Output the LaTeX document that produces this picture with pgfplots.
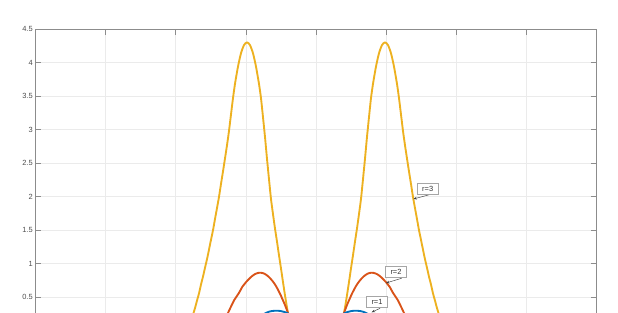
\documentclass[border=0pt]{standalone}
\usepackage{fontspec}
\setmainfont{Liberation Sans}
\usepackage{pgfplots}
\pgfplotsset{compat=1.18}
\usetikzlibrary{arrows.meta}
\definecolor{mblue}{rgb}{0,0.447,0.741}
\definecolor{mred}{rgb}{0.85,0.325,0.098}
\definecolor{myel}{rgb}{0.929,0.694,0.125}
\definecolor{axgray}{rgb}{0.55,0.55,0.55}
\begin{document}
\begin{tikzpicture}
\useasboundingbox (-26.625pt,13.35pt) rectangle (436.875pt,248.1pt);
\clip (-26.625pt,13.35pt) rectangle (436.875pt,248.1pt);
\begin{axis}[
  at={(0,0)}, anchor=south west,
  scale only axis, width=420.75pt, height=226.125pt,
  xmin=-4, xmax=4, ymin=0, ymax=4.5,
  xtick={-4,-3,...,4}, ytick={0.5,1,...,4.5},
  yticklabels={0.5,1,1.5,2,2.5,3,3.5,4,4.5},
  xticklabels={},
  grid=major,
  major grid style={draw=black!8, line width=0.5pt},
  axis line style={draw=axgray, line width=0.5pt},
  major tick style={draw=axgray, line width=0.5pt},
  major tick length=4.2pt,
  tick align=inside,
  /pgf/number format/assume math mode=true,
  tick label style={font=\fontsize{5.6}{6.5}\selectfont, text=black!70},
  yticklabel style={inner sep=0pt, xshift=-1.9pt},
  every axis plot/.append style={line width=1.4pt, line join=round},
]
% r=3, right peak
\addplot[myel, smooth, tension=0.4] coordinates {
(0.342,-0.05) (0.371,0.09) (0.399,0.26) (0.414,0.35) (0.442,0.53) (0.471,0.73) (0.499,0.93) (0.528,1.13) (0.556,1.33) (0.585,1.53) (0.613,1.74) (0.642,1.97) (0.670,2.26) (0.699,2.57) (0.727,2.89) (0.756,3.19) (0.784,3.47) (0.813,3.686) (0.856,3.946) (0.898,4.141) (0.941,4.264) (0.984,4.306)
(1.027,4.264) (1.070,4.141) (1.112,3.946) (1.155,3.686) (1.184,3.47) (1.212,3.23) (1.241,2.98) (1.269,2.77) (1.298,2.57) (1.326,2.38) (1.355,2.19) (1.383,2.00) (1.412,1.83) (1.440,1.67) (1.469,1.50) (1.497,1.36) (1.526,1.21) (1.554,1.07) (1.583,0.94) (1.611,0.81) (1.640,0.69) (1.668,0.56) (1.697,0.45) (1.725,0.34) (1.754,0.24) (1.782,0.14) (1.811,0.05) (1.84,-0.03)
};
% r=3, left peak
\addplot[myel, smooth, tension=0.4] coordinates {
(-1.84,-0.03) (-1.811,0.05) (-1.782,0.14) (-1.754,0.24) (-1.725,0.34) (-1.697,0.45) (-1.668,0.56) (-1.640,0.69) (-1.611,0.81) (-1.583,0.94) (-1.554,1.07) (-1.526,1.21) (-1.497,1.36) (-1.469,1.50) (-1.440,1.67) (-1.412,1.83) (-1.383,2.00) (-1.355,2.19) (-1.326,2.38) (-1.298,2.57) (-1.269,2.77) (-1.241,2.98) (-1.212,3.23) (-1.184,3.47) (-1.155,3.686) (-1.112,3.946) (-1.070,4.141) (-1.027,4.264) (-0.984,4.306)
(-0.941,4.264) (-0.898,4.141) (-0.856,3.946) (-0.813,3.686) (-0.784,3.47) (-0.756,3.19) (-0.727,2.89) (-0.699,2.57) (-0.670,2.26) (-0.642,1.97) (-0.613,1.74) (-0.585,1.53) (-0.556,1.33) (-0.528,1.13) (-0.499,0.93) (-0.471,0.73) (-0.442,0.53) (-0.414,0.35) (-0.399,0.26) (-0.371,0.09) (-0.342,-0.05)
};
% r=2
\addplot[mred, smooth, tension=0.4] coordinates {
(0.309,0.03) (0.338,0.10) (0.366,0.175) (0.395,0.255) (0.424,0.335) (0.452,0.41) (0.481,0.478) (0.509,0.545) (0.538,0.605) (0.566,0.66) (0.595,0.708) (0.623,0.747) (0.652,0.782) (0.680,0.811) (0.709,0.835) (0.737,0.853) (0.766,0.863) (0.794,0.867)
(0.823,0.864) (0.851,0.855) (0.880,0.840) (0.908,0.819) (0.937,0.793) (0.965,0.763) (0.994,0.731) (1.022,0.695) (1.051,0.656) (1.080,0.60) (1.108,0.55) (1.137,0.505) (1.165,0.46) (1.194,0.40) (1.222,0.34) (1.251,0.275) (1.279,0.21) (1.308,0.15) (1.336,0.09)
};
\addplot[mred, smooth, tension=0.4] coordinates {
(-1.336,0.09) (-1.308,0.15) (-1.279,0.21) (-1.251,0.275) (-1.222,0.34) (-1.194,0.40) (-1.165,0.46) (-1.137,0.505) (-1.108,0.55) (-1.080,0.60) (-1.051,0.656) (-1.022,0.695) (-0.994,0.731) (-0.965,0.763) (-0.937,0.793) (-0.908,0.819) (-0.880,0.840) (-0.851,0.855) (-0.823,0.864) (-0.794,0.867)
(-0.766,0.863) (-0.737,0.853) (-0.709,0.835) (-0.680,0.811) (-0.652,0.782) (-0.623,0.747) (-0.595,0.708) (-0.566,0.66) (-0.538,0.605) (-0.509,0.545) (-0.481,0.478) (-0.452,0.41) (-0.424,0.335) (-0.395,0.255) (-0.366,0.175) (-0.338,0.10) (-0.309,0.03)
};
% r=1
\addplot[mblue, smooth, tension=0.4] coordinates {
(0.335,0.20) (0.392,0.255) (0.449,0.28) (0.506,0.295) (0.563,0.30) (0.620,0.296) (0.677,0.283) (0.734,0.255) (0.791,0.21) (0.848,0.15)
};
\addplot[mblue, smooth, tension=0.4] coordinates {
(-0.848,0.15) (-0.791,0.21) (-0.734,0.255) (-0.677,0.283) (-0.620,0.296) (-0.563,0.30) (-0.506,0.295) (-0.449,0.28) (-0.392,0.255) (-0.335,0.20)
};
\tikzset{ann/.style={draw=black!35, fill=white, line width=0.4pt, inner sep=0pt, minimum width=15.75pt, minimum height=8.25pt, font=\fontsize{5.6}{6.5}\selectfont, text=black!80},
         arr/.style={draw=black!75, line width=0.35pt, -{Stealth[length=2.6pt,width=2pt]}}}
\draw[arr] (axis cs:1.626,2.034) -- (axis cs:1.390,1.967);
\node[ann] at (axis cs:1.593,2.121) {r=3};
\draw[arr] (axis cs:1.222,0.784) -- (axis cs:0.998,0.713);
\node[ann] at (axis cs:1.141,0.882) {r=2};
\draw[arr] (axis cs:0.913,0.336) -- (axis cs:0.794,0.276);
\node[ann] at (axis cs:0.870,0.427) {r=1};
\end{axis}
\end{tikzpicture}
\end{document}
